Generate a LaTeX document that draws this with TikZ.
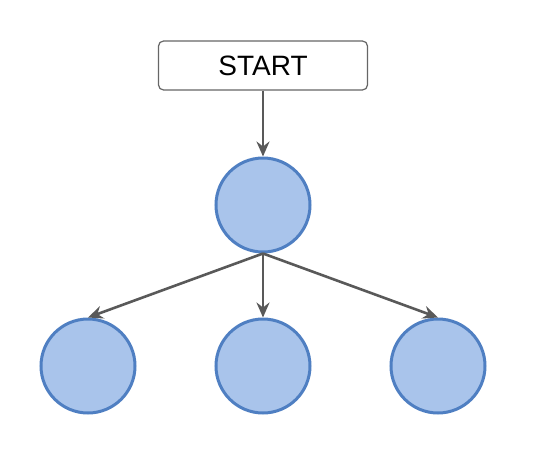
\documentclass[tikz,border=0pt]{standalone}
\usepackage{fontspec}
\setmainfont{Liberation Sans}
\usetikzlibrary{arrows.meta}
\definecolor{nodefill}{HTML}{A9C4EB}
\definecolor{nodeline}{HTML}{4F7FC2}
\definecolor{edgecol}{HTML}{595959}
\definecolor{boxline}{HTML}{666666}
\begin{document}
\begin{tikzpicture}[x=1pt,y=-1pt,
  startbox/.style={draw=boxline, line width=1.2pt, rounded corners=5pt, fill=white,
    minimum width=209pt, minimum height=49pt, inner sep=0pt,
    font=\fontsize{28}{30}\selectfont},
  treenode/.style={circle, draw=nodeline, fill=nodefill, line width=3pt,
    minimum size=94pt, inner sep=0pt},
  edge/.style={draw=edgecol, line width=2.6pt,
    -{Stealth[length=15pt, width=13pt, inset=5pt]}}]
  \useasboundingbox (0,0) rectangle (542,453);
  \node[startbox] (start) at (263,65.5) {START};
  \node[treenode] (root) at (263,205) {};
  \node[treenode] (left) at (88,366) {};
  \node[treenode] (mid) at (263,366) {};
  \node[treenode] (right) at (438,366) {};
  \draw[edge] (start.south) -- (root.north);
  \draw[edge] (root.south) -- (left.north);
  \draw[edge] (root.south) -- (mid.north);
  \draw[edge] (root.south) -- (right.north);
\end{tikzpicture}
\end{document}
